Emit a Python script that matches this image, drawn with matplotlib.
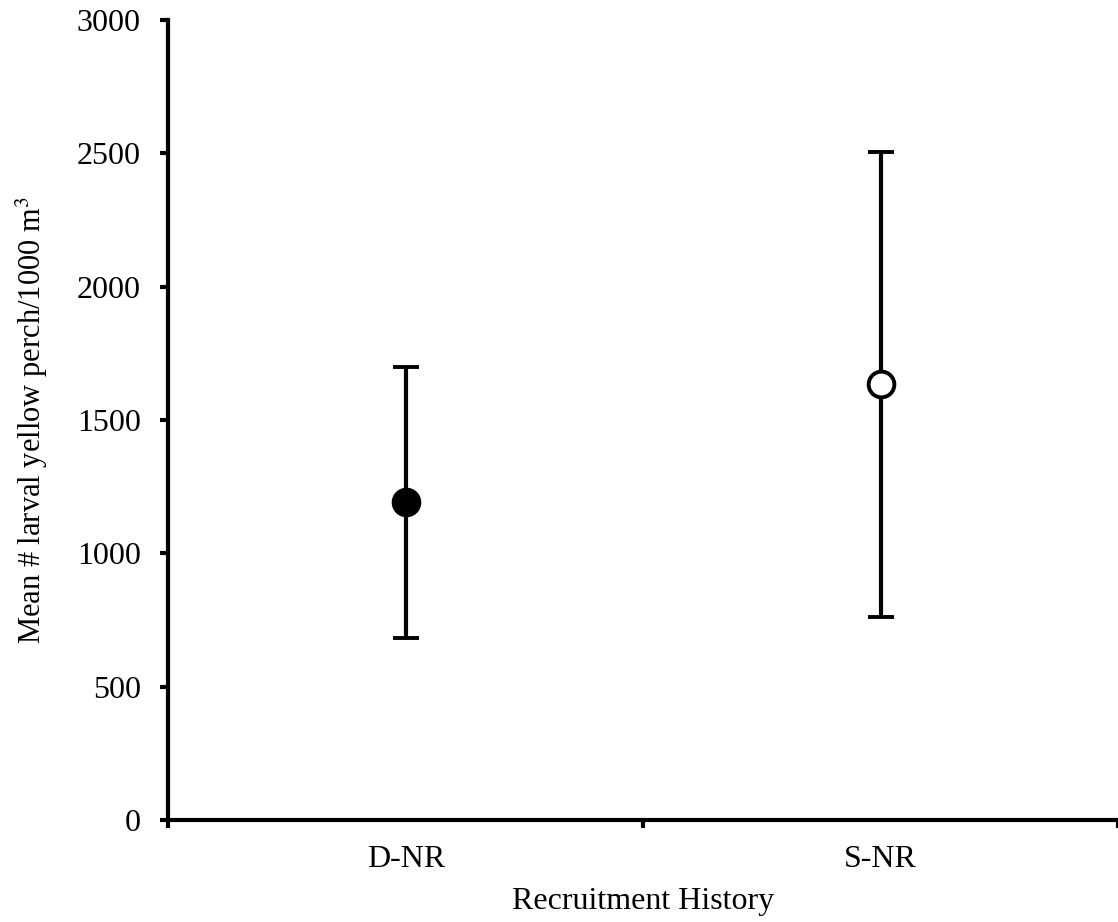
import matplotlib
matplotlib.use("Agg")
import matplotlib.pyplot as plt

# data
groups = ["D-NR", "S-NR"]
means = [1192, 1634]
errors = [508, 871]
filled = [True, False]

plt.rcParams['font.family'] = ['Liberation Serif', 'DejaVu Serif']
plt.rcParams['mathtext.fontset'] = 'stix'
FS = 23

fig = plt.figure(figsize=(11.18, 9.22), dpi=100)
ax = fig.add_axes([0.1507, 0.1106, 0.8493, 0.8677])

xpos = [i + 0.5 for i in range(len(groups))]
for x, m, e, f in zip(xpos, means, errors, filled):
    ax.errorbar(x, m, yerr=e, fmt='o', color='black', ecolor='black',
                elinewidth=3, capsize=9.5, capthick=4.3,
                markersize=18.5, markeredgewidth=2.8,
                markerfacecolor='black' if f else 'white',
                markeredgecolor='black', zorder=3)

ax.set_xlim(0, 2)
ax.set_ylim(0, 3000)
ax.set_yticks([0, 500, 1000, 1500, 2000, 2500, 3000])

# major ticks at category boundaries, labels at centres
ax.set_xticks([0, 1, 2])
ax.set_xticklabels([])
ax.set_xticks(xpos, minor=True)
ax.set_xticklabels(groups, minor=True)
ax.tick_params(axis='x', which='minor', length=0, pad=18, labelsize=FS)
ax.tick_params(axis='x', which='major', length=6, width=3, direction='out')
ax.tick_params(axis='y', length=6, width=3, direction='out', pad=14, labelsize=FS)

for s in ['top', 'right']:
    ax.spines[s].set_visible(False)
for s in ['left', 'bottom']:
    ax.spines[s].set_linewidth(3)

ax.set_xlabel("Recruitment History", fontsize=FS, labelpad=9)
ax.set_ylabel("Mean # larval yellow perch/1000 m$^{3}$", fontsize=22, labelpad=19)

fig.savefig("out.png", dpi=100)
